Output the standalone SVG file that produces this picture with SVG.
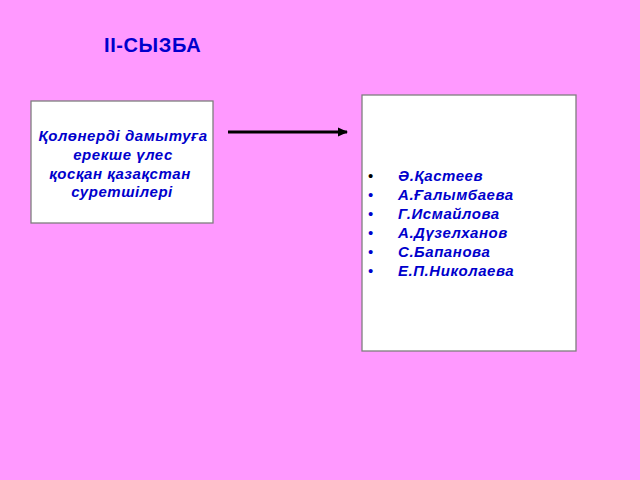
<svg xmlns="http://www.w3.org/2000/svg" width="640" height="480" viewBox="0 0 640 480">
<style>
.box{fill:#fff;stroke:#7f7f7f;stroke-width:1.3}
.t{font-family:"Liberation Sans",Arial,sans-serif;font-weight:bold;font-style:italic;font-size:15px;letter-spacing:0.55px;fill:#0000CC}
.title{font-family:"Liberation Sans",Arial,sans-serif;font-weight:bold;font-size:20px;letter-spacing:0.6px;fill:#0000CC}
.b{font-family:"Liberation Sans",Arial,sans-serif;font-size:15px;fill:#0000CC}
</style>
<defs>
<marker id="ah" markerWidth="10" markerHeight="10" refX="9" refY="5" orient="auto" markerUnits="userSpaceOnUse">
<path d="M0,0.5 L10,5 L0,9.5 Z" fill="#000"/>
</marker>
</defs>
<rect width="640" height="480" fill="#FF99FF"/>
<text class="title" x="104" y="52">II-СЫЗБА</text>
<g id="left">
<rect class="box" x="31" y="101" width="182" height="122"/>
<text class="t" text-anchor="middle"><tspan x="123" y="141">Қолөнерді дамытуға</tspan><tspan x="123" y="160">ерекше үлес</tspan><tspan x="120" y="179">қосқан қазақстан</tspan><tspan x="122" y="197">суретшілері</tspan></text>
</g>
<g id="right">
<rect class="box" x="362" y="95" width="214" height="256"/>
<g class="b">
<text x="368" y="181" style="fill:#000">•</text>
<text x="368" y="200">•</text>
<text x="368" y="219">•</text>
<text x="368" y="238">•</text>
<text x="368" y="257">•</text>
<text x="368" y="276">•</text>
</g>
<text class="t" x="398" y="181">Ә.Қастеев</text>
<text class="t" x="398" y="200">А.Ғалымбаева</text>
<text class="t" x="398" y="219">Г.Исмайлова</text>
<text class="t" x="398" y="238">А.Дүзелханов</text>
<text class="t" x="398" y="257">С.Бапанова</text>
<text class="t" x="398" y="276">Е.П.Николаева</text>
</g>
<g id="connectors">
<line x1="228" y1="132" x2="347" y2="132" stroke="#000" stroke-width="3" marker-end="url(#ah)"/>
</g>
</svg>
